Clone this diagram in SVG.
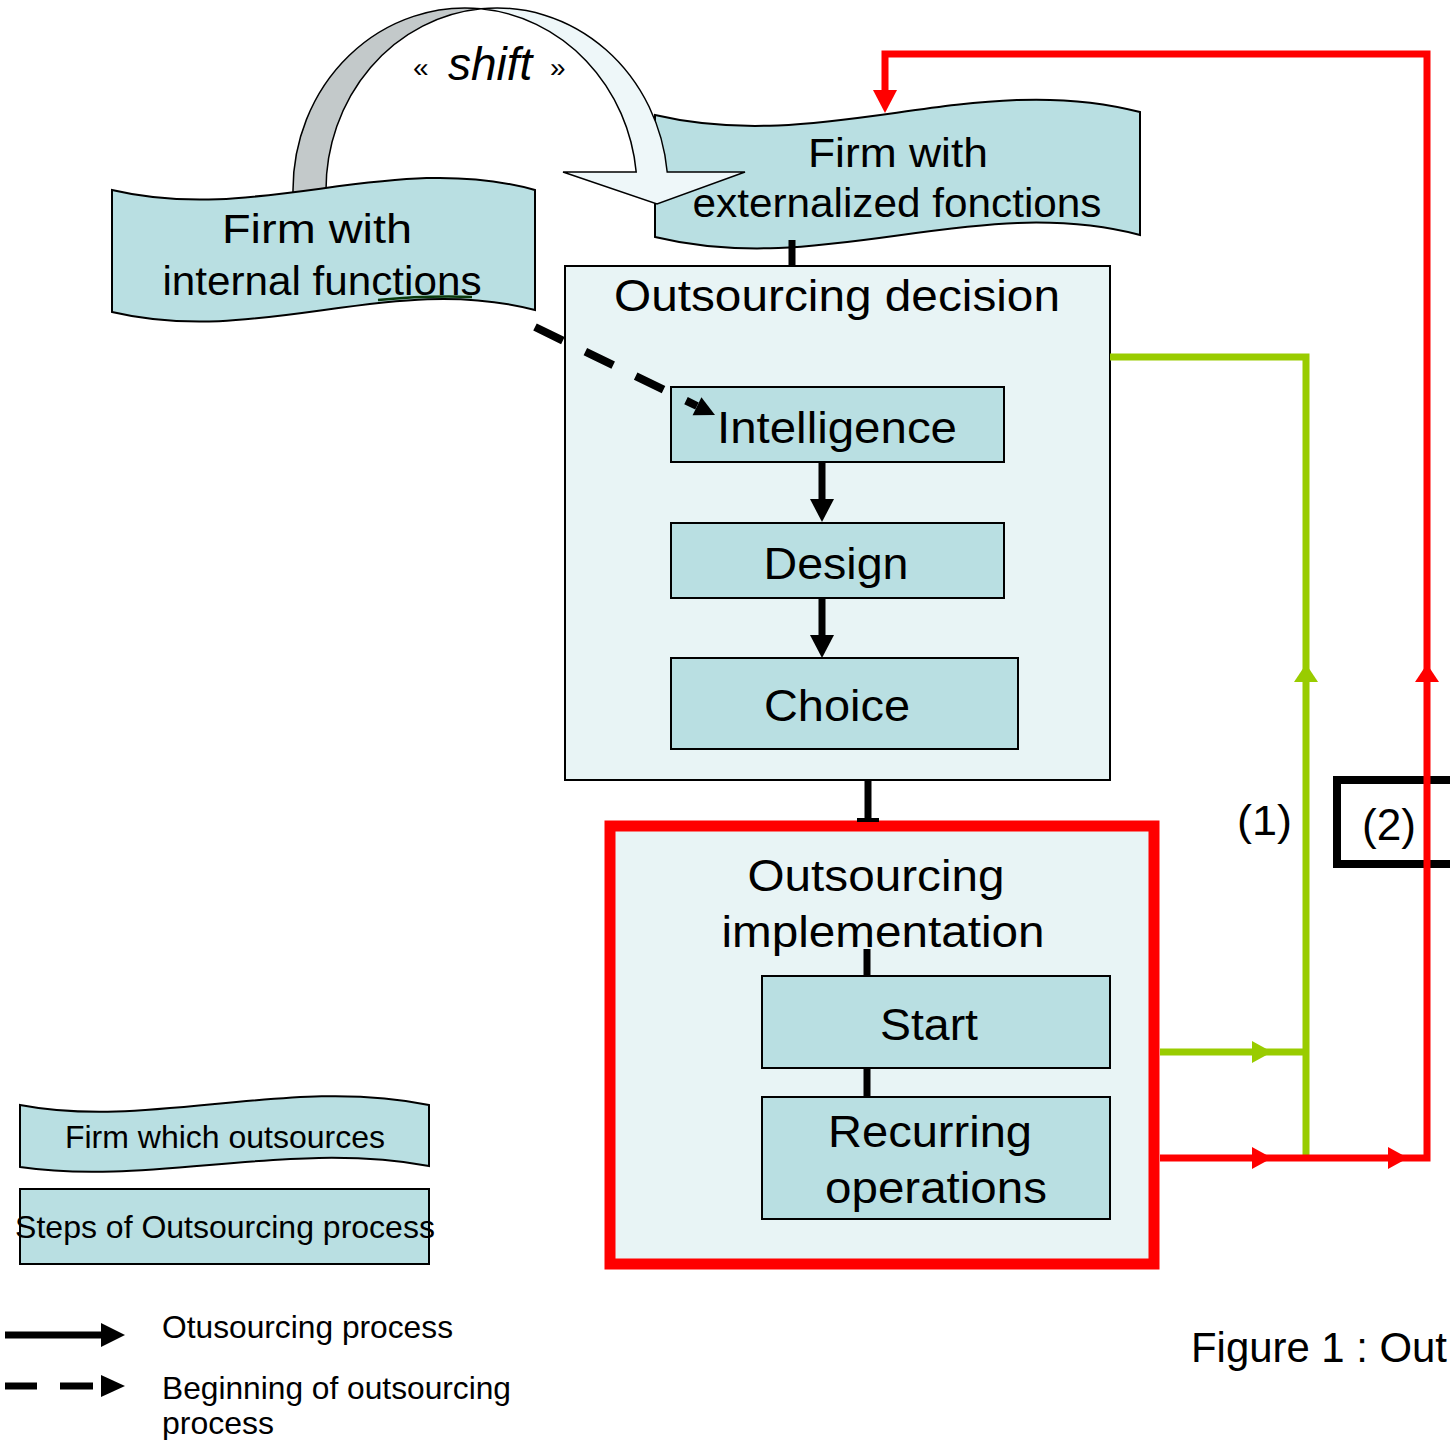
<svg xmlns="http://www.w3.org/2000/svg" width="1450" height="1440" viewBox="0 0 1450 1440">
<style>
text{font-family:"Liberation Sans",Arial,sans-serif;fill:#000;}
.lbl{font-size:44px;text-anchor:middle;}
.wl{font-size:40px;text-anchor:middle;}
.lg{font-size:32px;}
.wave{fill:#B9DFE2;stroke:#000;stroke-width:2;}
.step{fill:#B9DFE2;stroke:#000;stroke-width:2;}
.cont{fill:#E8F4F5;}
.blk{stroke:#000;stroke-width:7;fill:none;}
.grn{stroke:#99CC00;stroke-width:7;fill:none;}
.red{stroke:#FF0000;stroke-width:7;fill:none;}
</style>
<rect width="1450" height="1440" fill="#fff"/>

<g id="decision">
<rect x="565" y="266" width="545" height="514" class="cont" stroke="#000" stroke-width="2"/>
<text class="lbl" x="837" y="311" textLength="446" lengthAdjust="spacingAndGlyphs">Outsourcing decision</text>
</g>

<g id="implementation">
<rect x="610" y="826" width="544" height="438" class="cont" stroke="#FF0000" stroke-width="11"/>
<text class="lbl" x="876" y="891" textLength="257" lengthAdjust="spacingAndGlyphs">Outsourcing</text>
<text class="lbl" x="883" y="947" textLength="323" lengthAdjust="spacingAndGlyphs">implementation</text>
</g>

<g id="firm-external">
<path class="wave" d="M655,115 C825,155 974,69 1140,112 L1140,235 C974,192 825,278 655,237 Z"/>
<text class="wl" x="898" y="167" textLength="180" lengthAdjust="spacingAndGlyphs">Firm with</text>
<text class="wl" x="897" y="217" textLength="409" lengthAdjust="spacingAndGlyphs">externalized fonctions</text>
</g>

<g id="shift">
<path d="M293,215 L293,190 A172,182 0 0 1 481,8.8 A171,182 0 0 0 326,190 L326,215 Z" fill="#C3C9CA" stroke="#000" stroke-width="1.5"/>
<path d="M481,8.8 A171,182 0 0 1 667.2,172 L745,172 L657,204 L563,172 L636.2,172 A172,182 0 0 0 481,8.8 Z" fill="#EEF7F9" stroke="#000" stroke-width="1.5"/>
<text x="413" y="77" font-size="28">«</text>
<text x="448" y="80" font-size="46" font-style="italic">shift</text>
<text x="550" y="77" font-size="28">»</text>
</g>

<g id="firm-internal">
<path class="wave" d="M112,190 C260,225 390,150 535,190 L535,310 C390,272 260,347 112,312 Z"/>
<path d="M378,300 C410,297 445,296 472,297" stroke="#0B3A0B" stroke-width="2.5" fill="none"/>
<text class="wl" x="317" y="243" textLength="190" lengthAdjust="spacingAndGlyphs">Firm with</text>
<text class="wl" x="322" y="295" textLength="319" lengthAdjust="spacingAndGlyphs">internal functions</text>
</g>

<g id="intelligence">
<rect class="step" x="671" y="387" width="333" height="75"/>
<text class="lbl" x="837" y="443" textLength="240" lengthAdjust="spacingAndGlyphs">Intelligence</text>
</g>
<g id="design">
<rect class="step" x="671" y="523" width="333" height="75"/>
<text class="lbl" x="836" y="579" textLength="145" lengthAdjust="spacingAndGlyphs">Design</text>
</g>
<g id="choice">
<rect class="step" x="671" y="658" width="347" height="91"/>
<text class="lbl" x="837" y="721" textLength="146" lengthAdjust="spacingAndGlyphs">Choice</text>
</g>
<g id="start">
<rect class="step" x="762" y="976" width="348" height="92"/>
<text class="lbl" x="929" y="1040" textLength="98" lengthAdjust="spacingAndGlyphs">Start</text>
</g>
<g id="recurring">
<rect class="step" x="762" y="1097" width="348" height="122"/>
<text class="lbl" x="930" y="1147" textLength="204" lengthAdjust="spacingAndGlyphs">Recurring</text>
<text class="lbl" x="936" y="1203" textLength="222" lengthAdjust="spacingAndGlyphs">operations</text>
</g>

<g id="label-2">
<rect x="1337" y="780" width="200" height="84" fill="#fff" stroke="#000" stroke-width="8"/>
<text x="1362" y="840" font-size="44" textLength="54" lengthAdjust="spacingAndGlyphs">(2)</text>
</g>
<g id="label-1">
<text x="1237" y="835" font-size="42" textLength="55" lengthAdjust="spacingAndGlyphs">(1)</text>
</g>

<g id="connectors">
<line class="blk" x1="792" y1="240" x2="792" y2="266"/>
<line class="blk" x1="822" y1="462" x2="822" y2="502"/>
<polygon points="810,499 834,499 822,522" fill="#000"/>
<line class="blk" x1="822" y1="598" x2="822" y2="638"/>
<polygon points="810,635 834,635 822,658" fill="#000"/>
<line class="blk" x1="868" y1="780" x2="868" y2="822"/>
<rect x="857" y="818" width="22" height="4" fill="#000"/>
<line class="blk" x1="867" y1="949" x2="867" y2="976"/>
<line class="blk" x1="867" y1="1068" x2="867" y2="1097"/>
<line x1="535" y1="327" x2="697" y2="406" stroke="#000" stroke-width="8" stroke-dasharray="31 25"/>
<polygon points="715,415 692.6,415.2 701.4,397.2" fill="#000"/>
<path class="grn" d="M1160,1052 L1306,1052"/>
<polygon points="1252,1041 1252,1063 1272,1052" fill="#99CC00"/>
<path class="grn" d="M1306,1158 L1306,357 L1110,357"/>
<polygon points="1294,682 1318,682 1306,664" fill="#99CC00"/>
<path class="red" d="M1160,1158 L1427,1158 L1427,54 L885,54 L885,95"/>
<polygon points="1252,1147 1252,1169 1272,1158" fill="#FF0000"/>
<polygon points="1388,1147 1388,1169 1408,1158" fill="#FF0000"/>
<polygon points="1415,682 1439,682 1427,664" fill="#FF0000"/>
<polygon points="873,90 897,90 885,113" fill="#FF0000"/>
</g>

<g id="legend">
<g id="legend-firm">
<path class="wave" d="M20,1105 C150,1130 290,1076 429,1105 L429,1166 C290,1140 150,1186 20,1167 Z"/>
<text class="lg" x="225" y="1148" text-anchor="middle">Firm which outsources</text>
</g>
<g id="legend-steps">
<rect class="step" x="20" y="1189" width="409" height="75"/>
<text class="lg" x="225" y="1238" text-anchor="middle">Steps of Outsourcing process</text>
</g>
<g id="legend-solid">
<line x1="5" y1="1335" x2="104" y2="1335" stroke="#000" stroke-width="7"/>
<polygon points="101,1323 101,1347 125,1335" fill="#000"/>
<text class="lg" x="162" y="1338" textLength="291" lengthAdjust="spacingAndGlyphs">Otusourcing process</text>
</g>
<g id="legend-dashed">
<line x1="5" y1="1386" x2="37" y2="1386" stroke="#000" stroke-width="7"/>
<line x1="60" y1="1386" x2="93" y2="1386" stroke="#000" stroke-width="7"/>
<polygon points="101,1375 101,1397 125,1386" fill="#000"/>
<text class="lg" x="162" y="1399" textLength="349" lengthAdjust="spacingAndGlyphs">Beginning of outsourcing</text>
<text class="lg" x="162" y="1434">process</text>
</g>
</g>

<text x="1191" y="1362" font-size="42" textLength="256" lengthAdjust="spacingAndGlyphs">Figure 1 : Out</text>
</svg>
